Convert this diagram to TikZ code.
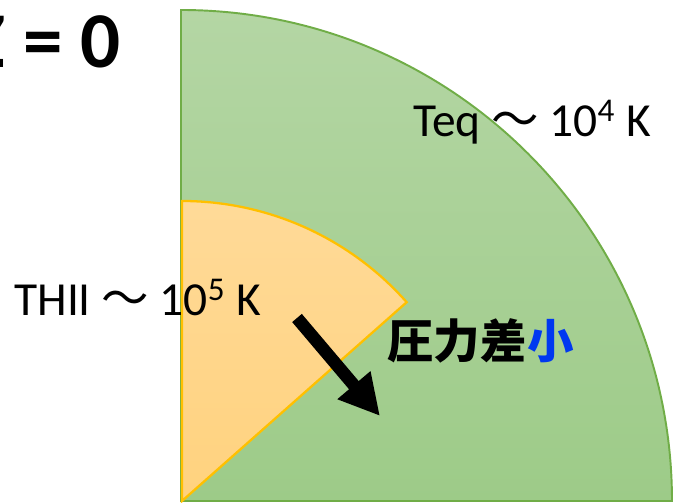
\documentclass[tikz,border=0pt]{standalone}
\usepackage{fontspec}
\setmainfont{Carlito}
\newfontfamily\cjk{Noto Sans CJK JP}
\usetikzlibrary{arrows.meta}
\definecolor{eqGreen}{RGB}{112,173,71}
\definecolor{eqGreenTop}{RGB}{180,214,164}
\definecolor{eqGreenBot}{RGB}{157,203,136}
\definecolor{hiiOrange}{RGB}{255,192,0}
\definecolor{hiiTop}{RGB}{255,218,152}
\definecolor{hiiBot}{RGB}{255,210,126}
\definecolor{smallBlue}{RGB}{0,56,240}

\begin{document}
\begin{tikzpicture}[x=0.02cm, y=0.02cm,
  lbl/.style={font=\fontsize{27}{31}\selectfont, anchor=base west, inner sep=0pt},
  push/.style={line width=7.2pt, -{Triangle[length=23pt, width=23pt]}},
]
  \useasboundingbox (0,0) rectangle (674,503);
  % equilibrium gas
  \draw[eqGreen, line width=1.1pt, top color=eqGreenTop, bottom color=eqGreenBot]
    (181,2) -- (181,493) arc[start angle=90, end angle=0, radius=491] -- cycle;
  % HII region
  \draw[hiiOrange, line width=1.3pt, top color=hiiTop, bottom color=hiiBot]
    (182,2) -- (182,302) arc[start angle=90, end angle=41.5, radius=300] -- cycle;

  \node[inner sep=0pt, anchor=base east, font=\fontsize{45}{50}\selectfont\bfseries]
    (zlabel) at (121,435) {Z = 0};
  \node[lbl] (teq) at (413,366) {Teq {\cjk ～} 10\textsuperscript{4} K};
  \node[lbl] (thii) at (14,187) {THII {\cjk ～} 10\textsuperscript{5} K};
  \node[lbl, font=\fontsize{26.5}{30}\selectfont\cjk\bfseries] (dp) at (387,144)
    {圧力差{\color{smallBlue}小}};

  \coordinate (from) at (297,185);
  \coordinate (to) at (380,87);
  \draw[push] (from) -- (to);
\end{tikzpicture}
\end{document}
